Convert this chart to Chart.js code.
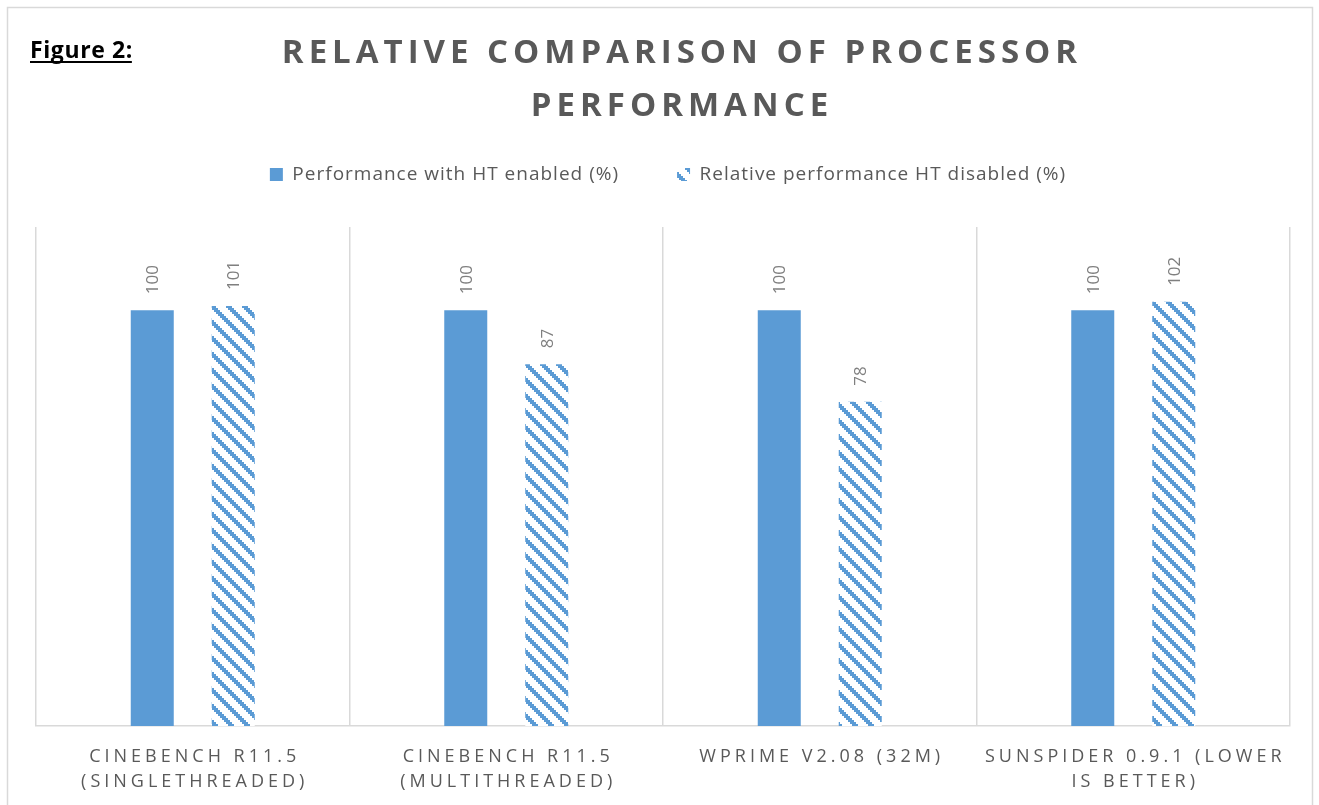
<!DOCTYPE html>
<html>
<head>
<meta charset="utf-8">
<script src="https://cdn.jsdelivr.net/npm/chart.js@4"></script>
<style>
  html, body { margin: 0; padding: 0; background: #ffffff; }
  #wrap { width: 1319px; height: 805px; position: relative; }
</style>
</head>
<body>
<div id="wrap"><canvas id="c" width="1319" height="805"></canvas></div>
<script>
const categories = [
  ['CINEBENCH R11.5', '(SINGLETHREADED)'],
  ['CINEBENCH R11.5', '(MULTITHREADED)'],
  'WPRIME V2.08 (32M)',
  ['SUNSPIDER 0.9.1 (LOWER', 'IS BETTER)']
];
const seriesNames = ['Performance with HT enabled (%)', 'Relative performance HT disabled (%)'];
const htEnabled = [100, 100, 100, 100];
const htDisabled = [101, 87, 78, 102];
const titleLines = ['RELATIVE COMPARISON OF PROCESSOR', 'PERFORMANCE'];
const figureLabel = 'Figure 2:';

const BLUE = '#5B9BD5';

function makeHatch() {
  const c = document.createElement('canvas');
  c.width = 16; c.height = 16;
  const g = c.getContext('2d');
  g.fillStyle = '#ffffff';
  g.fillRect(0, 0, 16, 16);
  g.fillStyle = BLUE;
  for (let y = 0; y < 16; y++) {
    for (let x = 0; x < 16; x++) {
      const d = ((Math.floor(x / 2) - Math.floor(y / 2)) % 8 + 8) % 8;
      if (d < 3) g.fillRect(x, y, 1, 1);
    }
  }
  return document.getElementById('c').getContext('2d').createPattern(c, 'repeat');
}
const hatch = makeHatch();

function withSpacing(fn, spacing, dx) {
  return function () {
    const ctx = this.ctx;
    ctx.save();
    ctx.letterSpacing = spacing;
    if (dx) ctx.translate(dx, 0);
    const r = fn.apply(this, arguments);
    ctx.restore();
    return r;
  };
}

const framePlugin = {
  id: 'frame',
  beforeLayout(chart) {
    const tb = chart.titleBlock;
    if (tb && !tb._p) {
      const ou = tb.update;
      tb.update = function () { ou.apply(this, arguments); this.height = 107; this.bottom = this.top + 107; };
      tb.draw = withSpacing(tb.draw, '5px', 19);
      tb._p = true;
    }
    const lg = chart.legend;
    if (lg && !lg._p) {
      const of = withSpacing(lg.fit, '1px', 0);
      lg.fit = function () { of.apply(this, arguments); this.height = 120; };
      lg.draw = withSpacing(lg.draw, '1px', 5);
      lg._p = true;
    }
  },
  beforeDraw(chart) {
    const ctx = chart.ctx;
    ctx.save();
    ctx.strokeStyle = '#d9d9d9';
    ctx.lineWidth = 1.5;
    ctx.strokeRect(7.5, 7.5, 1305, 840);
    ctx.restore();
    const xs = chart.scales.x;
    if (xs && !xs._p) {
      xs.drawLabels = withSpacing(xs.drawLabels, '4px', 2);
      xs._p = true;
    }
  },
  afterDatasetsDraw(chart) {
    const ctx = chart.ctx;
    ctx.save();
    ctx.fillStyle = '#7f7f7f';
    ctx.font = '17px "Open Sans"';
    ctx.textAlign = 'left';
    ctx.textBaseline = 'middle';
    chart.data.datasets.forEach((ds, di) => {
      const meta = chart.getDatasetMeta(di);
      meta.data.forEach((bar, i) => {
        ctx.save();
        ctx.translate(bar.x + 1, bar.y - 16);
        ctx.rotate(-Math.PI / 2);
        ctx.fillText(String(ds.data[i]), 0, 0);
        ctx.restore();
      });
    });
    ctx.restore();
  },
  afterDraw(chart) {
    const ctx = chart.ctx;
    ctx.save();
    ctx.fillStyle = '#000000';
    ctx.font = 'bold 23px "Open Sans"';
    ctx.letterSpacing = '0.6px';
    ctx.textAlign = 'left';
    ctx.textBaseline = 'alphabetic';
    ctx.fillText(figureLabel, 30, 58);
    const w = ctx.measureText(figureLabel).width;
    ctx.fillRect(30, 61, w - 1, 2);
    ctx.restore();
  }
};

new Chart(document.getElementById('c'), {
  type: 'bar',
  data: {
    labels: categories,
    datasets: [
      { label: seriesNames[0], data: htEnabled, backgroundColor: BLUE, borderWidth: 0 },
      { label: seriesNames[1], data: htDisabled, backgroundColor: hatch, borderWidth: 0 }
    ]
  },
  options: {
    responsive: false,
    animation: false,
    devicePixelRatio: 1,
    layout: { padding: { left: 36, right: 29, top: 0, bottom: 0 } },
    categoryPercentage: 0.5167,
    barPercentage: 0.531,
    plugins: {
      title: {
        display: true,
        text: titleLines,
        color: '#595959',
        font: { family: '"Open Sans"', size: 33, weight: 'bold', lineHeight: 53 / 33 },
        padding: { top: 27.5, bottom: 0 }
      },
      legend: {
        display: true,
        position: 'top',
        labels: {
          color: '#595959',
          font: { family: '"Open Sans"', size: 19 },
          boxWidth: 13,
          boxHeight: 13,
          padding: 58
        }
      },
      tooltip: { enabled: false }
    },
    scales: {
      x: {
        grid: { display: true, offset: true, color: '#d9d9d9', lineWidth: 1.5, drawTicks: false },
        border: { display: true, color: '#d9d9d9', width: 1.5 },
        ticks: {
          color: '#595959',
          font: { family: '"Open Sans"', size: 18, lineHeight: 25 / 18 },
          padding: 18,
          maxRotation: 0,
          autoSkip: false
        },
        afterFit(s) { s.height = 79; }
      },
      y: {
        display: false,
        min: 0,
        max: 120
      }
    }
  },
  plugins: [framePlugin]
});
</script>
</body>
</html>
